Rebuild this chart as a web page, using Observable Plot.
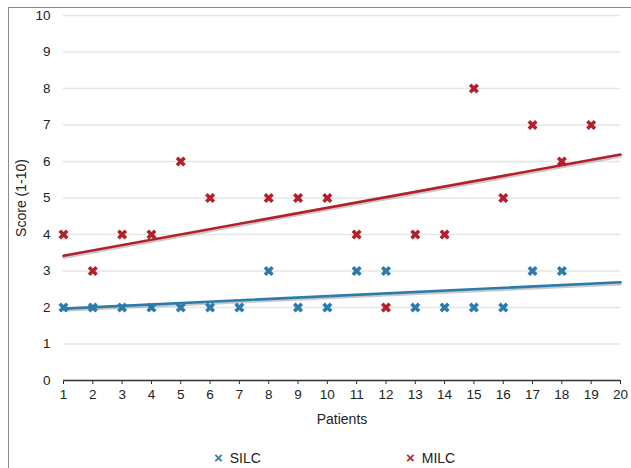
<!DOCTYPE html>
<html>
<head>
<meta charset="utf-8">
<script src="https://cdn.jsdelivr.net/npm/d3@7"></script>
<script src="https://cdn.jsdelivr.net/npm/@observablehq/plot@0.6"></script>
<style>
  html, body { margin: 0; padding: 0; background: #fff; }
  #wrap { position: relative; width: 631px; height: 468px; overflow: hidden; font-family: "Liberation Sans", Arial, sans-serif; }
  #frame { position: absolute; left: 8px; top: 7px; right: -4px; bottom: -4px; border-top: 1.5px solid #8a8a8a; border-left: 1.5px solid #8a8a8a; }
  #chart { position: absolute; left: 0; top: 0; }
  #chart g[aria-label="x-axis label"] text, #chart g[aria-label="y-axis label"] text { font-size: 14px; }
  #legend { position: absolute; top: 449px; left: 0; width: 631px; font-size: 14px; color: #222; }
  .item { position: absolute; white-space: nowrap; }
  .mk { font-weight: bold; font-size: 15px; margin-right: 7px; }
</style>
</head>
<body>
<div id="wrap">
  <div id="frame"></div>
  <div id="chart"></div>
  <div id="legend"></div>
</div>
<script>
const series = ["SILC", "MILC"];
const colors = ["#2b7bab", "#b3202a"];

const patientTicks = [1,2,3,4,5,6,7,8,9,10,11,12,13,14,15,16,17,18,19,20];
const scoreTicks = [0,1,2,3,4,5,6,7,8,9,10];

const silcX = [1,2,3,4,5,6,7,8,9,10,11,12,13,14,15,16,17,18];
const silcY = [2,2,2,2,2,2,2,3,2,2,3,3,2,2,2,2,3,3];

const milcX = [1,2,3,4,5,6,8,9,10,11,12,13,14,15,16,17,18,19];
const milcY = [4,3,4,4,6,5,5,5,5,4,2,4,4,8,5,7,6,7];

const trendX = [1, 20];
const silcTrend = [1.97, 2.69];
const milcTrend = [3.42, 6.19];

const points = [
  ...silcX.map((x, i) => ({x, y: silcY[i], s: "SILC"})),
  ...milcX.map((x, i) => ({x, y: milcY[i], s: "MILC"}))
];
const trends = [
  ...trendX.map((x, i) => ({x, y: silcTrend[i], s: "SILC"})),
  ...trendX.map((x, i) => ({x, y: milcTrend[i], s: "MILC"}))
];

const plot = Plot.plot({
  width: 631,
  height: 435,
  marginLeft: 63,
  marginRight: 11,
  marginTop: 15,
  marginBottom: 55,
  style: {fontFamily: '"Liberation Sans", Arial, sans-serif', fontSize: "13.5px", color: "#222", background: "transparent"},
  x: {domain: [1, 20], ticks: patientTicks, tickFormat: d => String(d), label: "Patients", labelArrow: "none", labelAnchor: "center", labelOffset: 43, tickSize: 4, tickPadding: 5},
  y: {domain: [0, 10], ticks: scoreTicks, label: "Score (1-10)", labelArrow: "none", labelAnchor: "center", labelOffset: 47, tickSize: 0, tickPadding: 13},
  color: {domain: series, range: colors},
  marks: [
    Plot.gridY(scoreTicks, {stroke: "#e4e6e6", strokeOpacity: 1, strokeWidth: 1.4}),
    Plot.ruleY([0], {stroke: "#333", strokeWidth: 1.5}),
    Plot.line(trends, {x: "x", y: "y", z: "s", stroke: "#888", strokeOpacity: 0.45, strokeWidth: 2.5, dy: 2}),
    Plot.line(trends, {x: "x", y: "y", z: "s", stroke: "s", strokeWidth: 2.6}),
    Plot.dot(points, {x: "x", y: "y", stroke: "s", symbol: "times", r: 3.5, strokeWidth: 3.6})
  ]
});
document.getElementById("chart").appendChild(plot);

const legend = document.getElementById("legend");
const lx = [214, 406];
series.forEach((s, i) => {
  const d = document.createElement("div");
  d.className = "item";
  d.style.left = lx[i] + "px";
  d.innerHTML = `<span class="mk" style="color:${colors[i]}">×</span>${s}`;
  legend.appendChild(d);
});
</script>
</body>
</html>
